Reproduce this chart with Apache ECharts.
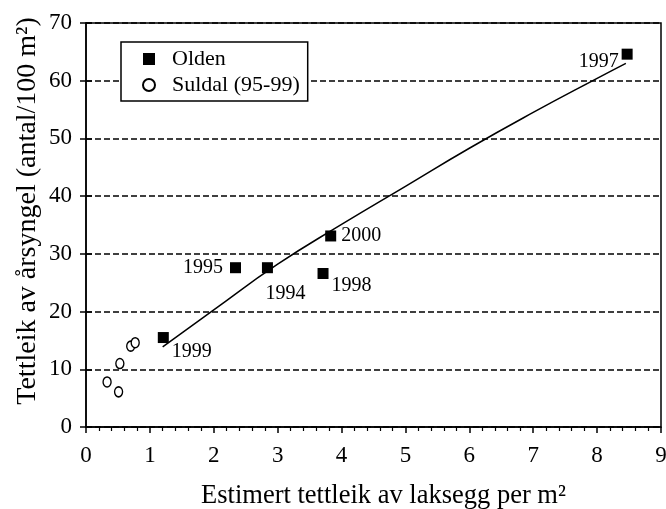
<!DOCTYPE html>
<html>
<head>
<meta charset="utf-8">
<script src="https://cdn.jsdelivr.net/npm/echarts@6/dist/echarts.min.js"></script>
<style>
  html, body { margin: 0; padding: 0; background: #fff; }
  #chart { width: 666px; height: 509px; }
</style>
</head>
<body>
<div id="chart"></div>
<script>
// Olden (filled squares)
const oldenYears = ['1999', '1995', '1994', '1998', '2000', '1997'];
const oldenX = [1.21, 2.34, 2.84, 3.71, 3.83, 8.47];
const oldenY = [15.5, 27.6, 27.6, 26.6, 33.1, 64.6];

// Suldal 95-99 (open circles)
const suldalX = [0.33, 0.51, 0.53, 0.70, 0.77];
const suldalY = [7.8, 6.1, 11.0, 14.0, 14.6];

// trend line
const trendX = [1.2, 2, 3, 4, 5, 6, 7, 8, 8.45];
const trendY = [13.9, 20.3, 28.2, 35.1, 41.7, 48.3, 54.5, 60.4, 63.0];

const yTicks = [0, 10, 20, 30, 40, 50, 60, 70];
const xTicks = [0, 1, 2, 3, 4, 5, 6, 7, 8, 9];

const font = 'Liberation Serif';

// where each year label sits next to its square
const labelPlace = {
  '1999': { position: 'right', offset: [-2, 14] },
  '1995': { position: 'left', offset: [-2, 0] },
  '1994': { position: 'bottom', offset: [18, 6] },
  '1998': { position: 'right', offset: [-2, 12] },
  '2000': { position: 'right', offset: [0, 0] },
  '1997': { position: 'left', offset: [2, 8] }
};

const oldenData = oldenX.map((x, i) => ({
  value: [x, oldenY[i]],
  name: oldenYears[i],
  label: labelPlace[oldenYears[i]]
}));
const suldalData = suldalX.map((x, i) => [x, suldalY[i]]);
const trendData = trendX.map((x, i) => [x, trendY[i]]);

const chart = echarts.init(document.getElementById('chart'));
const option = {
  animation: false,
  grid: {
    left: 86, right: 5, top: 23, bottom: 82,
    containLabel: false, outerBoundsMode: 'none',
    show: true, borderColor: '#000', borderWidth: 1.5
  },
  legend: {
    left: 121,
    top: 42,
    orient: 'vertical',
    data: ['Olden', 'Suldal (95-99)'],
    backgroundColor: '#fff',
    borderColor: '#000',
    borderWidth: 1.5,
    borderRadius: 0,
    padding: [6, 8, 5, 21],
    itemWidth: 12,
    itemHeight: 12,
    itemGap: 4,
    textStyle: { fontFamily: font, fontSize: 22, color: '#000', lineHeight: 22, padding: [0, 0, 0, 12] }
  },
  xAxis: {
    type: 'value',
    min: 0,
    max: 9,
    interval: 1,
    name: 'Estimert tettleik av laksegg per m²',
    nameLocation: 'middle',
    nameGap: 56,
    nameTextStyle: { fontFamily: font, fontSize: 26.5, color: '#000', padding: [0, 0, 0, 20] },
    axisLine: { onZero: false, lineStyle: { color: '#000', width: 1.5 } },
    axisTick: { length: 6, lineStyle: { color: '#000', width: 1.5 } },
    minorTick: { show: true, splitNumber: 5, length: 4, lineStyle: { color: '#000', width: 1.2 } },
    axisLabel: { fontFamily: font, fontSize: 23, color: '#000', margin: 17 },
    splitLine: { show: false }
  },
  yAxis: [{
    type: 'value',
    min: 0,
    max: 70,
    interval: 10,
    name: 'Tettleik av årsyngel (antal/100 m²)',
    nameLocation: 'middle',
    nameGap: 44,
    nameMoveOverlap: false,
    nameTextStyle: { fontFamily: font, fontSize: 28, color: '#000', padding: [0, 0, 0, 28] },
    axisLine: { show: true, lineStyle: { color: '#000', width: 1.5 } },
    axisTick: { length: 6, lineStyle: { color: '#000', width: 1.5 } },
    axisLabel: { fontFamily: font, fontSize: 23, color: '#000', margin: 14 },
    splitLine: { show: true, lineStyle: { color: '#000', width: 1.5, type: [6, 3] } }
  }, {
    type: 'value',
    position: 'left',
    min: 0,
    max: 70,
    interval: 10,
    axisLine: { show: false },
    axisTick: { show: true, inside: true, length: 6, lineStyle: { color: '#000', width: 1.5 } },
    axisLabel: { show: false },
    splitLine: { show: false }
  }],
  series: [
    {
      name: 'trend',
      type: 'line',
      data: trendData,
      showSymbol: false,
      smooth: true,
      lineStyle: { color: '#000', width: 1.5 },
      z: 2
    },
    {
      name: 'Olden',
      type: 'scatter',
      data: oldenData,
      symbol: 'rect',
      symbolSize: 11,
      itemStyle: { color: '#000', opacity: 1 },
      label: {
        show: true,
        formatter: p => p.name,
        fontFamily: font,
        fontSize: 20,
        color: '#000'
      },
      z: 3
    },
    {
      name: 'Suldal (95-99)',
      type: 'scatter',
      data: suldalData,
      symbol: 'circle',
      symbolSize: [8, 10],
      itemStyle: { color: '#fff', borderColor: '#000', borderWidth: 1.5, opacity: 1 },
      z: 3
    }
  ]
};
chart.setOption(option);
</script>
</body>
</html>
